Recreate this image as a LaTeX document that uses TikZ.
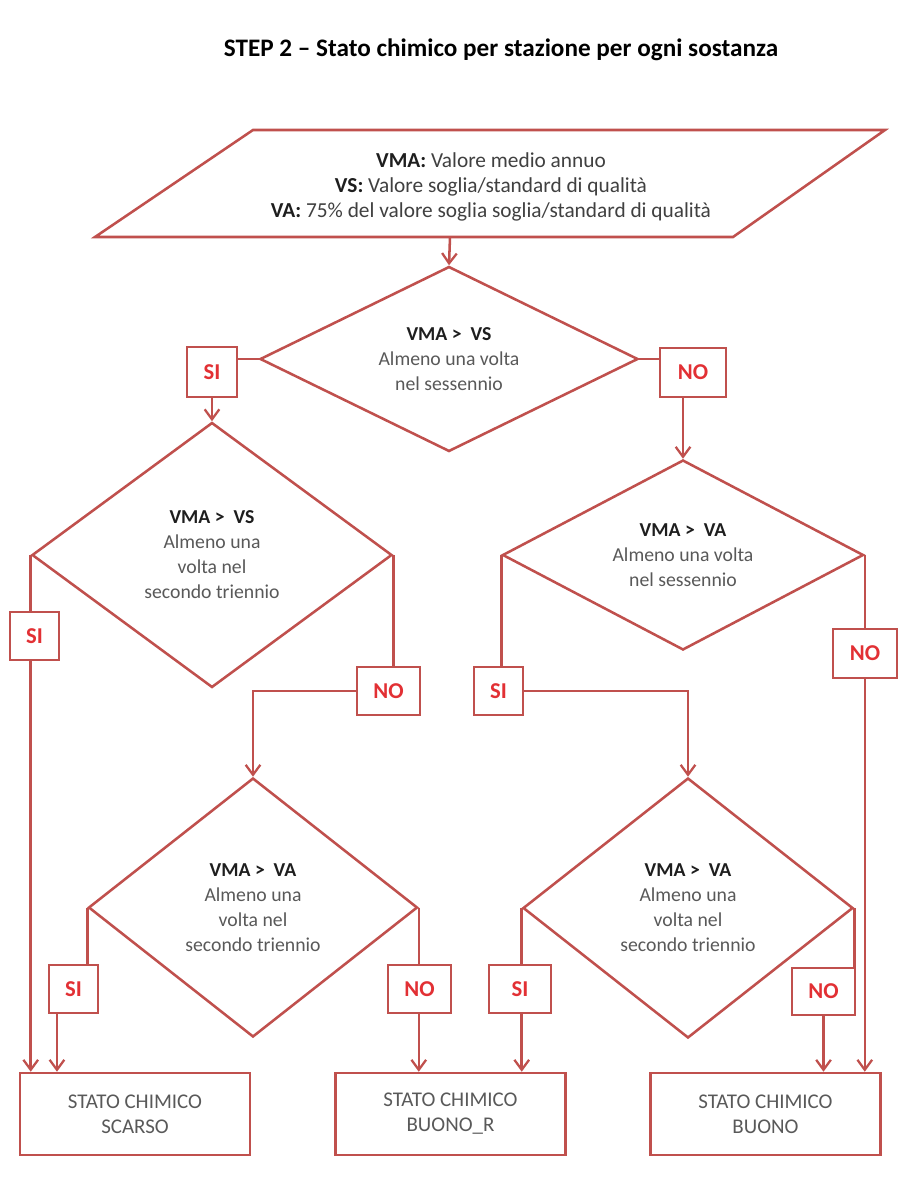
\documentclass[tikz,border=0pt]{standalone}
\usepackage{fontspec}
\setmainfont{Carlito}
\usetikzlibrary{shapes.geometric,arrows.meta}
\definecolor{lc}{RGB}{192,80,77}
\definecolor{labred}{RGB}{226,48,52}
\definecolor{tx}{RGB}{89,89,89}
\definecolor{tb}{RGB}{30,30,30}
\definecolor{tp}{RGB}{64,64,64}
\begin{document}
\begin{tikzpicture}[x=0.75pt,y=-0.75pt,
  conn/.style={draw=lc,line width=1.9pt},
  arr/.style={conn,-{Straight Barb[length=7.5pt,width=11pt,line width=1.7pt]}},
  dec/.style={diamond,draw=lc,line width=1.9pt,inner sep=0pt,align=center,text=tx,
    font=\fontsize{14.8pt}{18.75pt}\selectfont},
  lab/.style={draw=lc,line width=1.9pt,fill=white,text=labred,inner sep=0pt,
    font=\bfseries\fontsize{17pt}{20pt}\selectfont},
  res/.style={draw=lc,line width=1.9pt,text=tx,align=center,inner sep=0pt,
    minimum width=172.5pt,minimum height=61.5pt,font=\fontsize{15.7pt}{18.75pt}\selectfont}
]
\useasboundingbox[fill=white] (0,0) rectangle (901,1180);

% title
\node[font=\bfseries\fontsize{18.9pt}{22pt}\selectfont,text=black] (title) at (501,50)
  {STEP 2 – Stato chimico per stazione per ogni sostanza};

% input parallelogram
\draw[conn] (253,130) -- (885,130) -- (733,237) -- (95,237) -- cycle;
\node[align=center,text=tp,font=\fontsize{16pt}{19pt}\selectfont] (inp) at (491,187)
  {{\bfseries\color{tb}VMA:} Valore medio annuo\\
   {\bfseries\color{tb}VS:} Valore soglia/standard di qualità\\
   {\bfseries\color{tb}VA:} 75\% del valore soglia soglia/standard di qualità};
\coordinate (pb) at (450,237);

% decisions
\node[dec,aspect=2.04,minimum width=283.5pt,minimum height=138.75pt] (d1) at (449,359)
  {{\bfseries\color{tb}VMA >\ \ VS}\\Almeno una volta\\nel sessennio};
\node[dec,aspect=1.36,minimum width=270pt,minimum height=198.75pt] (d2) at (212,555)
  {{\bfseries\color{tb}VMA >\ \ VS}\\Almeno una\\volta nel\\secondo triennio};
\node[dec,aspect=1.9,minimum width=270.75pt,minimum height=142.5pt] (d3) at (683,555)
  {{\bfseries\color{tb}VMA >\ \ VA}\\Almeno una volta\\nel sessennio};
\node[dec,aspect=1.27,minimum width=246.75pt,minimum height=194.25pt] (d4) at (253,907.5)
  {{\bfseries\color{tb}VMA >\ \ VA}\\Almeno una\\volta nel\\secondo triennio};
\node[dec,aspect=1.27,minimum width=247.5pt,minimum height=195pt] (d5) at (688,908)
  {{\bfseries\color{tb}VMA >\ \ VA}\\Almeno una\\volta nel\\secondo triennio};

% SI / NO labels
\node[lab,minimum width=37.5pt,minimum height=37.5pt] (si1) at (212,372) {SI};
\node[lab,minimum width=49.5pt,minimum height=36.75pt] (no1) at (693,372.5) {NO};
\node[lab,minimum width=36.75pt,minimum height=36pt] (si2) at (34.5,636) {SI};
\node[lab,minimum width=47.25pt,minimum height=36pt] (no2) at (388.5,691) {NO};
\node[lab,minimum width=36.75pt,minimum height=36pt] (si3) at (498.5,691) {SI};
\node[lab,minimum width=48pt,minimum height=36.75pt] (no3) at (865,653.5) {NO};
\node[lab,minimum width=36.75pt,minimum height=36pt] (si4) at (73.5,989) {SI};
\node[lab,minimum width=47.25pt,minimum height=36pt] (no4) at (419.5,989) {NO};
\node[lab,minimum width=46.5pt,minimum height=36pt] (si5) at (520,989) {SI};
\node[lab,minimum width=47.25pt,minimum height=35.25pt] (no5) at (823.5,991.5) {NO};

% results
\node[res] (sc) at (135,1114) {STATO CHIMICO\\SCARSO};
\node[res] (br) at (450.5,1114) {STATO CHIMICO\\BUONO\_R};
\node[res] (bu) at (765.5,1114) {STATO CHIMICO\\BUONO};

% connectors
\draw[arr] (pb) -- (d1.north);
\draw[conn] (d1.west) -- (si1.east |- d1.west);
\draw[arr] (si1.south) -- (d2.north);
\draw[conn] (d1.east) -- (no1.west |- d1.east);
\draw[arr] (no1.south -| d3.north) -- (d3.north);

\draw[conn] (d2.west) -- (d2.west |- si2.north);
\draw[arr] (d2.west |- si2.south) -- (d2.west |- sc.north);
\draw[conn] (d2.east) -- (d2.east |- no2.north);
\draw[arr] (no2.west) -| (d4.north);

\draw[conn] (d3.west) -- (d3.west |- si3.north);
\draw[arr] (si3.east) -| (d5.north);
\draw[conn] (d3.east) -- (d3.east |- no3.north);
\draw[arr] (d3.east |- no3.south) -- (d3.east |- bu.north);

\coordinate (s4a) at ([xshift=-12.4pt]si4.south);
\draw[conn] (d4.west) -- (d4.west |- si4.north);
\draw[arr] (s4a) -- (s4a |- sc.north);
\draw[conn] (d4.east) -- (d4.east |- no4.north);
\draw[arr] (d4.east |- no4.south) -- (d4.east |- br.north);

\draw[conn] (d5.west) -- (d5.west |- si5.north);
\draw[arr] (d5.west |- si5.south) -- (d5.west |- br.north);
\draw[conn] (d5.east) -- (d5.east |- no5.north);
\draw[arr] (no5.south) -- (no5.south |- bu.north);
\end{tikzpicture}
\end{document}
